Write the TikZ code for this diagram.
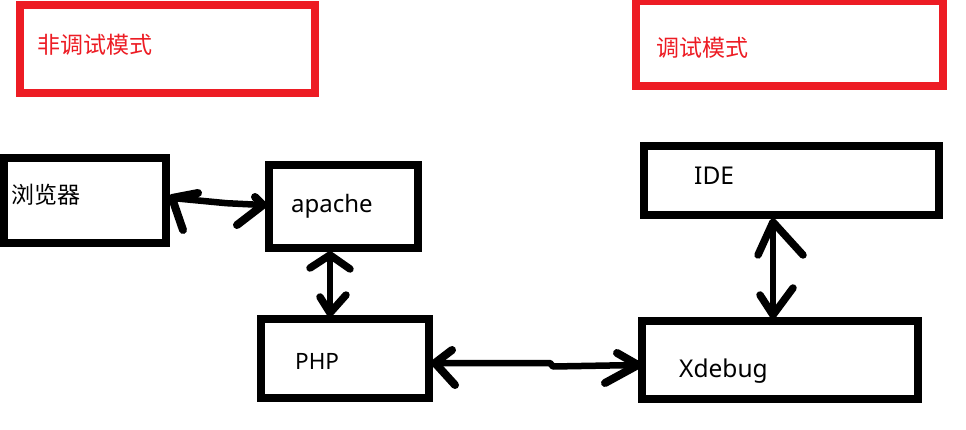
\documentclass[tikz,border=0pt]{standalone}
\usepackage{fontspec}
\setmainfont{Noto Sans}
\newfontfamily\cjk{Noto Sans CJK SC}
\usetikzlibrary{calc}
\definecolor{paintred}{RGB}{237,28,36}
\begin{document}
\begin{tikzpicture}[x=1pt,y=-1pt,
  redbox/.style={draw=paintred,line width=8pt,inner sep=0pt},
  blackbox/.style={draw=black,line width=8pt,inner sep=0pt},
  txt/.style={inner sep=0pt,anchor=base west},
  redtxt/.style={txt,text=paintred,font=\cjk\fontsize{23}{23}\selectfont},
  shaft/.style={line width=5.5pt,line cap=round,line join=round},
  barb/.style={line width=7.5pt,line cap=round,line join=round}]
\useasboundingbox (0,0) rectangle (966,430);
\fill[white] (0,0) rectangle (966,430);
% red title boxes
\node[redbox,minimum width=295pt,minimum height=88pt] (nondebug) at (167.5,49) {};
\node[redbox,minimum width=307pt,minimum height=85pt] (debug) at (789.5,43.5) {};
\node[redtxt] (nondebugtxt) at (37,53.5) {非调试模式};
\node[redtxt] (debugtxt) at (656,57) {调试模式};
% black boxes
\node[blackbox,minimum width=162.5pt,minimum height=84.5pt] (browser) at (84.75,200.75) {};
\node[blackbox,minimum width=149.5pt,minimum height=83pt] (apache) at (343.25,206.5) {};
\node[blackbox,minimum width=168pt,minimum height=79pt] (php) at (345,358.5) {};
\node[blackbox,minimum width=295pt,minimum height=68.5pt] (ide) at (791.5,180.75) {};
\node[blackbox,minimum width=276pt,minimum height=77.5pt] (xdebug) at (780,359.75) {};
% labels
\node[txt,font=\cjk\fontsize{23}{23}\selectfont] (browsertxt) at (11.5,203.5) {浏览器};
\node[txt,font=\fontsize{24}{24}\selectfont] (apachetxt) at (291,213) {apache};
\node[txt,font=\fontsize{22.5}{22.5}\selectfont] (phptxt) at (295,369) {PHP};
\node[txt,font=\fontsize{24.5}{24.5}\selectfont] (idetxt) at (694,185) {IDE};
\node[txt,font=\fontsize{24.5}{24.5}\selectfont] (xdebugtxt) at (679,377.5) {Xdebug};
% arrow tips
\coordinate (a1s) at ($(browser.east)+(2,-2.75)$);
\coordinate (a1e) at ($(apache.west)+(-1.5,-1.5)$);
\coordinate (a2s) at ($(apache.south)+(-13.25,3)$);
\coordinate (a2e) at ($(php.north)+(-15,-2)$);
\coordinate (a3s) at ($(php.east)+(2,4.5)$);
\coordinate (a3e) at ($(xdebug.west)+(0,5.25)$);
\coordinate (a4s) at ($(ide.south)+(-18.5,3)$);
\coordinate (a4e) at ($(xdebug.north)+(-7,-2)$);
% browser <-> apache
\draw[shaft,line width=6.5pt] (a1s) -- ($(a1s)!0.6!(a1e)+(0,1)$) -- (a1e);
\draw[barb,line width=8pt] (a1s) ++(26,-5) -- (a1s) -- ++(11,32);
\draw[barb,line width=8pt] (a1e) ++(-8,-8) -- (a1e) -- ++(-26,20);
% apache <-> php
\draw[shaft] (a2s) -- (a2e);
\draw[barb] (a2s) ++(-20,13) -- (a2s) -- ++(20,14);
\draw[barb] (a2e) ++(-10,-16) -- (a2e) -- ++(16,-18);
% php <-> xdebug
\draw[shaft,line width=6.5pt] (a3s) -- ++(115,0) -- ++(3,3.5) -- (a3e);
\draw[barb,line width=8pt] (a3s) ++(17,-13) -- (a3s) -- ++(20,22);
\draw[barb,line width=8pt] (a3e) ++(-21,-12) -- (a3e) -- ++(-33,18);
% ide <-> xdebug
\draw[shaft] (a4s) -- (a4e);
\draw[barb] (a4s) ++(-15,33) -- (a4s) -- ++(30,33);
\draw[barb] (a4e) ++(-13,-20) -- (a4e) -- ++(20,-27);
\end{tikzpicture}
\end{document}
